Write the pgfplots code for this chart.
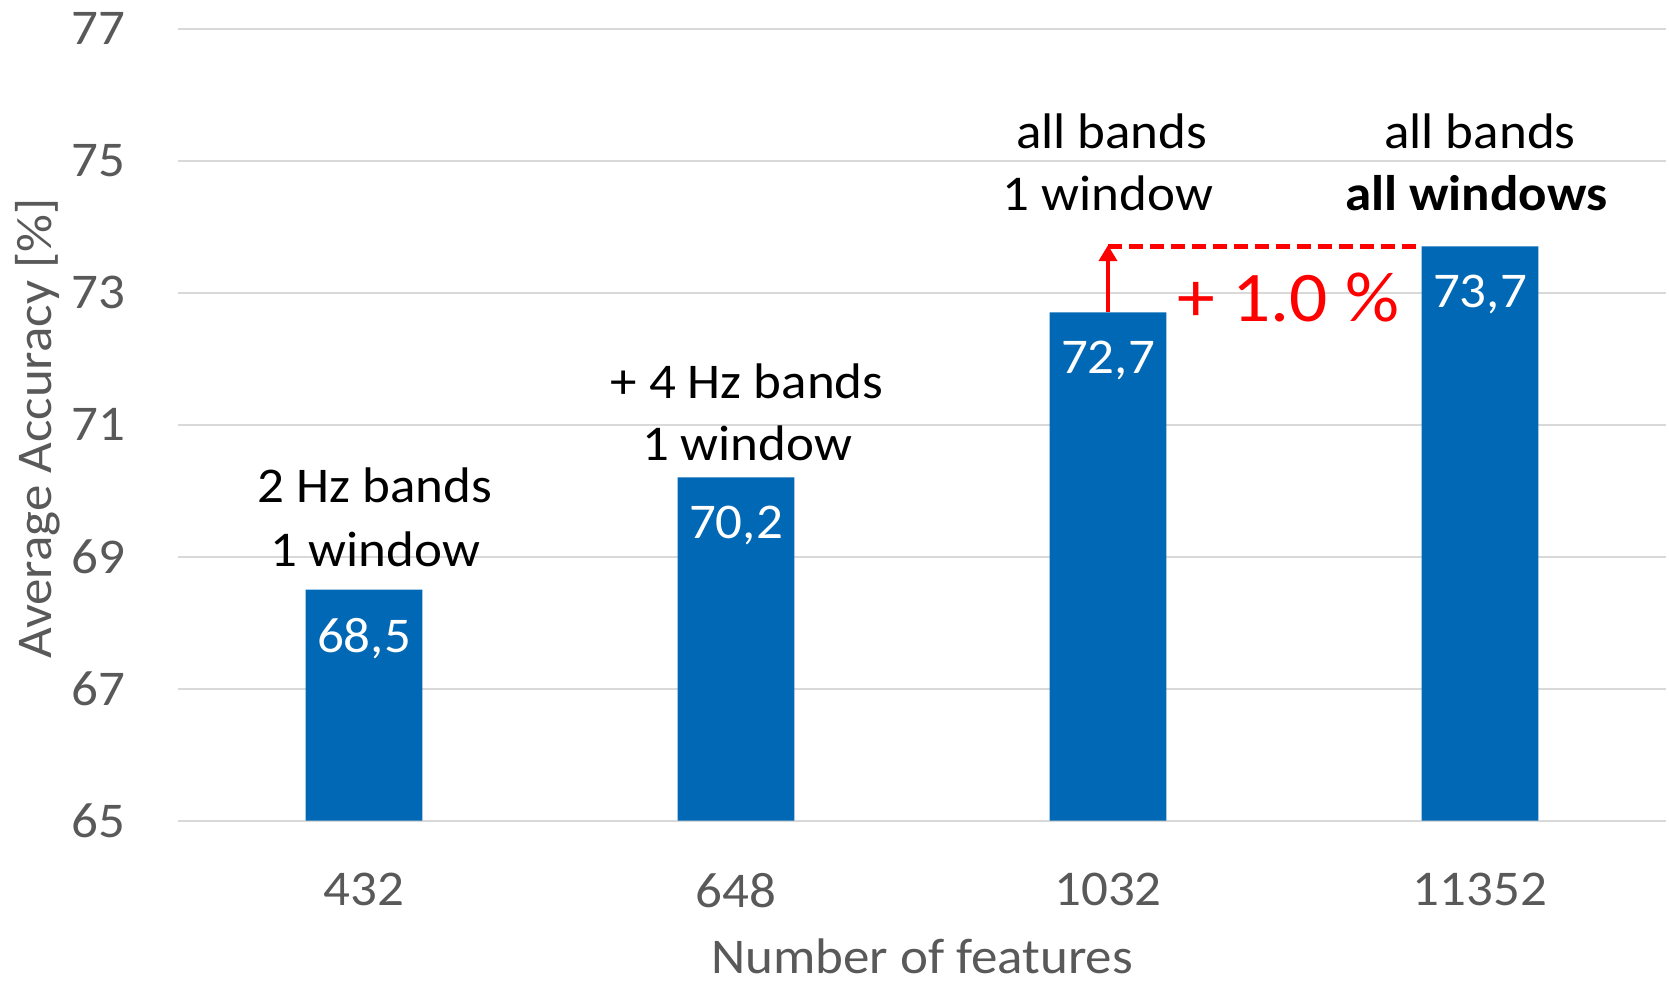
\documentclass[border=0pt]{standalone}
\usepackage{fontspec}
\setmainfont{Carlito}[FakeStretch=1.06]
\usepackage{pgfplots}
\pgfplotsset{compat=1.18}
\usetikzlibrary{calc,arrows.meta}

\definecolor{barblue}{RGB}{0,104,180}
\definecolor{gridgray}{RGB}{217,217,217}
\definecolor{labelgray}{RGB}{89,89,89}
\definecolor{annred}{RGB}{255,0,0}

\newcommand{\lblfont}{\fontsize{25}{30}\selectfont}

\begin{document}
\begin{tikzpicture}
\begin{axis}[
  scale only axis,
  width=744pt, height=396pt,
  ymin=65, ymax=77,
  ytick={65,67,...,77},
  xmin=-0.5, xmax=3.5,
  xtick=data,
  xticklabels={432,648,1032,11352},
  /pgf/number format/assume math mode=true,
  axis line style={draw=none},
  tick style={draw=none},
  ymajorgrids,
  major grid style={gridgray, line width=1pt},
  ticklabel style={font=\lblfont, text=labelgray, inner sep=0pt},
  yticklabel style={anchor=east, xshift=-26pt},
  xticklabel style={anchor=north, yshift=-21.7pt},
  xlabel={Number of features},
  ylabel={Average Accuracy [\%]},
  xlabel style={font=\lblfont, text=labelgray, inner sep=0pt,
    at={(axis description cs:0.5,0)}, anchor=base, yshift=-76.5pt},
  ylabel style={font=\lblfont, text=labelgray, inner sep=0pt,
    at={(axis description cs:0,0.495)}, anchor=base, yshift=63pt},
  ybar, bar width=58.3pt,
  nodes near coords={\pgfmathprintnumber[fixed,fixed zerofill,precision=1,use comma]{\pgfplotspointmeta}},
  nodes near coords style={anchor=north, yshift=-14pt, inner sep=0pt, text=white, font=\lblfont},
  clip=false,
]
\addplot[fill=barblue, draw=none] coordinates {(0,68.5) (1,70.2) (2,72.7) (3,73.7)};

% step from the third to the fourth bar
\draw[annred, line width=2.2pt, dash pattern=on 7pt off 3.5pt]
  (axis cs:2,73.7) -- (axis cs:2.843,73.7);
\draw[annred, line width=2.2pt, -{Triangle[width=9pt,length=8pt]}]
  (axis cs:2,72.7) -- (axis cs:2,73.72);
\node[annred, font=\fontsize{35.6}{40}\selectfont, anchor=center, inner sep=0pt]
  at (axis cs:2.485,72.93) {+ 1.0 \%};

% descriptions above the bars
\node[anchor=base, font=\lblfont, inner sep=0pt] at (axis cs:0.03,69.82) {2 Hz bands};
\node[anchor=base, font=\lblfont, inner sep=0pt] at (axis cs:0.03,68.85) {1 window};
\node[anchor=base, font=\lblfont, inner sep=0pt] at (axis cs:1.03,71.40) {+ 4 Hz bands};
\node[anchor=base, font=\lblfont, inner sep=0pt] at (axis cs:1.03,70.45) {1 window};
\node[anchor=base, font=\lblfont, inner sep=0pt] at (axis cs:2.01,75.19) {all bands};
\node[anchor=base, font=\lblfont, inner sep=0pt] at (axis cs:2.0,74.24) {1 window};
\node[anchor=base, font=\lblfont, inner sep=0pt] at (axis cs:3.0,75.19) {all bands};
\node[anchor=base, font=\lblfont\bfseries, inner sep=0pt] at (axis cs:2.99,74.24) {all windows};

\coordinate (bl) at (rel axis cs:0,0);
\coordinate (tr) at (rel axis cs:1,1);
\end{axis}
\pgfresetboundingbox
\path[use as bounding box] ($(bl)+(-89pt,-81.15pt)$) rectangle ($(tr)+(1.5pt,14.35pt)$);
\end{tikzpicture}
\end{document}
